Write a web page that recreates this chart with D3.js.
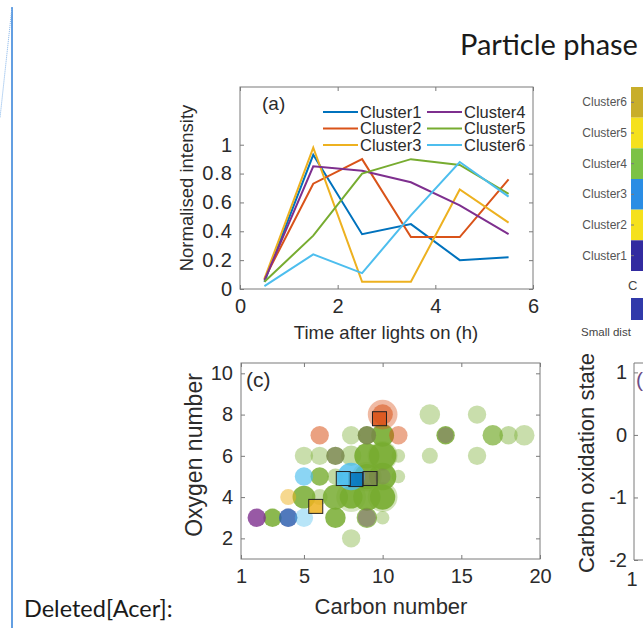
<!DOCTYPE html>
<html>
<head>
<meta charset="utf-8">
<script src="https://cdn.jsdelivr.net/npm/d3@7"></script>
<style>
  body { margin: 0; background: #fff; }
  svg { display: block; }
</style>
</head>
<body>
<svg width="643" height="628"></svg>
<script>
// ---- data ----
var hours = [0.5, 1.5, 2.5, 3.5, 4.5, 5.5];
var clusterNames = ['Cluster1', 'Cluster2', 'Cluster3', 'Cluster4', 'Cluster5', 'Cluster6'];
var cluster1 = [0.05, 0.93, 0.38, 0.45, 0.20, 0.22];
var cluster2 = [0.07, 0.73, 0.90, 0.36, 0.36, 0.76];
var cluster3 = [0.07, 0.98, 0.05, 0.05, 0.69, 0.46];
var cluster4 = [0.06, 0.85, 0.82, 0.74, 0.58, 0.38];
var cluster5 = [0.05, 0.37, 0.80, 0.90, 0.86, 0.66];
var cluster6 = [0.02, 0.24, 0.11, 0.51, 0.88, 0.64];
var timeTicks = [0, 2, 4, 6];
var intensityTicks = [0, 0.2, 0.4, 0.6, 0.8, 1];

// panel (c): [carbon, oxygen, size, frequency]
var pointsC5 = [
  [8, 2, 3.3, 0.4],
  [3, 3, 3.3, 0.85], [7, 3, 4.1, 0.85], [9, 3, 4.1, 0.75], [10, 3, 1.8, 0.4],
  [5, 4, 5.1, 0.85], [6, 4, 2.5, 0.4], [7, 4, 6.2, 0.85], [8, 4, 8.6, 0.3], [8, 4, 5.1, 0.9],
  [9, 4, 7.3, 0.9], [10, 4, 8.6, 0.35], [10, 4, 6.2, 0.9],
  [6, 5, 3.3, 0.8], [7, 5, 2.5, 0.45], [9, 5, 8.6, 0.3], [9, 5, 6.2, 0.9], [10, 5, 7.3, 0.9],
  [11, 5, 1.8, 0.4],
  [5, 6, 3.3, 0.4], [6, 6, 3.3, 0.4], [7, 6, 3.3, 0.8], [8, 6, 4.1, 0.45], [9, 6, 6.2, 0.9],
  [10, 6, 8.6, 0.35], [10, 6, 7.3, 0.9], [11, 6, 1.8, 0.4], [13, 6, 2.5, 0.4], [16, 6, 3.3, 0.4],
  [8, 7, 3.3, 0.4], [9, 7, 3.3, 0.9], [10, 7, 5.1, 0.9], [14, 7, 3.3, 0.85],
  [17, 7, 4.1, 0.7], [18, 7, 3.3, 0.45], [19, 7, 4.1, 0.4],
  [13, 8, 4.1, 0.4], [16, 8, 3.3, 0.4]
];
var pointsC4 = [[2, 3, 3.3, 0.8], [4, 3, 3.3, 0.6], [7, 6, 3.3, 0.25], [9, 7, 3.3, 0.25],
  [9, 3, 3.3, 0.3], [14, 7, 2.5, 0.25], [10, 5, 2.5, 0.15]];
var pointsC1 = [[4, 3, 3.3, 0.55]];
var pointsC2 = [[6, 7, 3.3, 0.55], [11, 7, 3.3, 0.5], [10, 8, 8.6, 0.4], [10, 8, 4.1, 0.55]];
var pointsC3 = [[4, 4, 2.5, 0.5]];
var pointsC6 = [[5, 5, 3.3, 0.65], [5, 3, 3.3, 0.4], [8, 5, 7.3, 0.8]];
var centroidCarbon = [8.3, 9.8, 5.75, 9.2, 7.5];
var centroidOxygen = [4.85, 7.8, 3.55, 4.9, 4.9];
var centroidCluster = [0, 1, 2, 3, 5];
var centroidFreq = [0.85, 0.85, 0.85, 0.25, 0.85];
var carbonTicks = [1, 5, 10, 15, 20];
var oxygenTicks = [2, 4, 6, 8, 10];

// panel (b) visible column, values per cluster (top to bottom: Cluster6..Cluster1)
var panelBLabels = ['Cluster6', 'Cluster5', 'Cluster4', 'Cluster3', 'Cluster2', 'Cluster1'];
var panelBValues = [0.65, 1.0, 0.5, 0.2, 1.0, 0.0];

// panel (d)
var oxStateTicks = [1, 0, -1, -2];

// ---- setup ----
var svg = d3.select('svg');
var axisFont = 'Liberation Sans, Arial, sans-serif';
var docFont = 'Lato, sans-serif';
var textCol = '#2b2b2b';
var frameCol = '#7a7a7a';
var fmt = function(d) { return String(d); };

var clusterColour = d3.scaleOrdinal()
  .domain(d3.range(6))
  .range(['#0072BD', '#D95319', '#EDB120', '#7E2F8E', '#77AC30', '#4DBEEE']);

var parula = d3.scaleLinear()
  .domain([0, 0.2, 0.5, 0.65, 1])
  .range(['#322ba0', '#2a8de4', '#7cc246', '#c8ae2a', '#f5e11c']);

// document decorations
svg.append('line').attr('x1', 12).attr('y1', 7).attr('x2', 12).attr('y2', 628)
  .attr('stroke', '#2f7fd8').attr('stroke-width', 1.5);
svg.append('line').attr('x1', 12).attr('y1', 7).attr('x2', 0).attr('y2', 118)
  .attr('stroke', '#7fb2ea').attr('stroke-width', 1).attr('stroke-dasharray', '1,1');
svg.append('text').attr('x', 24).attr('y', 617)
  .style('font-family', docFont).style('font-size', '23.5px').attr('fill', '#1a1a1a')
  .text('Deleted[Acer]:');
svg.append('text').attr('x', 460).attr('y', 55)
  .style('font-family', docFont).style('font-size', '29px').attr('fill', '#1a1a1a')
  .text('Particle phase');

function frame(g, x, y, w, h) {
  g.append('rect').attr('x', x).attr('y', y).attr('width', w).attr('height', h)
    .attr('fill', 'none').attr('stroke', frameCol).attr('stroke-width', 1);
}

function styleAxis(g, size, spacing) {
  g.select('.domain').remove();
  g.selectAll('.tick line').attr('stroke', frameCol);
  g.selectAll('.tick text').attr('fill', textCol)
    .style('font-family', axisFont).style('font-size', size + 'px')
    .style('letter-spacing', (spacing || 0) + 'px');
}

// ---- panel (a) ----
var ax = d3.scaleLinear().domain([0, 6]).range([240, 533]);
var ay = d3.scaleLinear().domain([0, 1.4]).range([289, 87]);
var gA = svg.append('g');

gA.append('g').attr('transform', 'translate(0,289)')
  .call(d3.axisBottom(ax).tickValues(timeTicks).tickFormat(fmt).tickSizeInner(-4).tickSizeOuter(0).tickPadding(10))
  .call(styleAxis, 20);
gA.append('g').attr('transform', 'translate(0,87)')
  .call(d3.axisTop(ax).tickValues(timeTicks).tickSizeInner(-4).tickSizeOuter(0).tickFormat(''))
  .call(styleAxis, 20);
gA.append('g').attr('transform', 'translate(240,0)')
  .call(d3.axisLeft(ay).tickValues(intensityTicks).tickFormat(fmt).tickSizeInner(-4).tickSizeOuter(0).tickPadding(7))
  .call(styleAxis, 20, 1);
gA.append('g').attr('transform', 'translate(533,0)')
  .call(d3.axisRight(ay).tickValues(intensityTicks).tickSizeInner(-4).tickSizeOuter(0).tickFormat(''))
  .call(styleAxis, 20);
frame(gA, 240, 87, 293, 202);

var series = [cluster1, cluster2, cluster3, cluster4, cluster5, cluster6];
var line = d3.line().x(function(d, i) { return ax(hours[i]); }).y(function(d) { return ay(d); });
gA.selectAll('path.series').data(series).enter()
  .append('path').attr('class', 'series')
  .attr('d', line)
  .attr('fill', 'none')
  .attr('stroke', function(d, i) { return clusterColour(i); })
  .attr('stroke-width', 2);

gA.append('text').attr('x', 262).attr('y', 110).text('(a)')
  .style('font-family', axisFont).style('font-size', '19px').attr('fill', textCol);

var legend = gA.selectAll('g.leg').data(clusterNames).enter().append('g').attr('class', 'leg')
  .attr('transform', function(d, i) {
    return 'translate(' + (i < 3 ? 323 : 427) + ',' + (112 + (i % 3) * 16.5) + ')';
  });
legend.append('line').attr('x1', 0).attr('x2', 35).attr('y1', 0).attr('y2', 0)
  .attr('stroke', function(d, i) { return clusterColour(i); }).attr('stroke-width', 2);
legend.append('text').attr('x', 37).attr('y', 5.5).text(function(d) { return d; })
  .style('font-family', axisFont).style('font-size', '16.5px').attr('fill', textCol);

gA.append('text').attr('transform', 'translate(193,188) rotate(-90)').attr('text-anchor', 'middle')
  .style('font-family', axisFont).style('font-size', '18.5px').attr('fill', textCol)
  .text('Normalised intensity');
gA.append('text').attr('x', 386).attr('y', 339).attr('text-anchor', 'middle')
  .style('font-family', axisFont).style('font-size', '18.5px').attr('fill', textCol)
  .text('Time after lights on (h)');

// ---- panel (c) ----
var cx = d3.scaleLinear().domain([1, 20]).range([241, 540]);
var cy = d3.scaleLinear().domain([1, 10.5]).range([559, 363]);
var rScale = d3.scaleSqrt().domain([0, 10]).range([0, 16]);
var aScale = d3.scaleLinear().domain([0, 1]).range([0, 1]);
var gC = svg.append('g');

gC.append('g').attr('transform', 'translate(0,559)')
  .call(d3.axisBottom(cx).tickValues(carbonTicks).tickFormat(fmt).tickSizeInner(-4).tickSizeOuter(0).tickPadding(10))
  .call(styleAxis, 20);
gC.append('g').attr('transform', 'translate(0,363)')
  .call(d3.axisTop(cx).tickValues(carbonTicks).tickSizeInner(-4).tickSizeOuter(0).tickFormat(''))
  .call(styleAxis, 20);
gC.append('g').attr('transform', 'translate(241,0)')
  .call(d3.axisLeft(cy).tickValues(oxygenTicks).tickFormat(fmt).tickSizeInner(-4).tickSizeOuter(0).tickPadding(8))
  .call(styleAxis, 20);
gC.append('g').attr('transform', 'translate(540,0)')
  .call(d3.axisRight(cy).tickValues(oxygenTicks).tickSizeInner(-4).tickSizeOuter(0).tickFormat(''))
  .call(styleAxis, 20);

var layers = [[4, pointsC5], [3, pointsC4], [0, pointsC1], [1, pointsC2], [2, pointsC3], [5, pointsC6]];
layers.forEach(function(layer) {
  gC.append('g').selectAll('circle').data(layer[1]).enter()
    .append('circle')
    .attr('cx', function(d) { return cx(d[0]); })
    .attr('cy', function(d) { return cy(d[1]); })
    .attr('r', function(d) { return rScale(d[2]); })
    .attr('fill', clusterColour(layer[0]))
    .attr('fill-opacity', function(d) { return aScale(d[3]); });
});

var sq = 14;
gC.append('g').selectAll('rect').data(centroidCarbon).enter()
  .append('rect')
  .attr('x', function(d) { return cx(d) - sq / 2; })
  .attr('y', function(d, i) { return cy(centroidOxygen[i]) - sq / 2; })
  .attr('width', sq).attr('height', sq)
  .attr('fill', function(d, i) { return clusterColour(centroidCluster[i]); })
  .attr('fill-opacity', function(d, i) { return centroidFreq[i]; })
  .attr('stroke', '#222').attr('stroke-width', 1);

frame(gC, 241, 363, 299, 196);
gC.append('text').attr('x', 246).attr('y', 387).text('(c)')
  .style('font-family', axisFont).style('font-size', '21px').attr('fill', textCol);
gC.append('text').attr('transform', 'translate(202,455) rotate(-90)').attr('text-anchor', 'middle')
  .style('font-family', axisFont).style('font-size', '23px').attr('fill', textCol)
  .text('Oxygen number');
gC.append('text').attr('x', 391).attr('y', 614).attr('text-anchor', 'middle')
  .style('font-family', axisFont).style('font-size', '22px').attr('fill', textCol)
  .text('Carbon number');

// ---- panel (b), cut off at right ----
var by = d3.scaleBand().domain(panelBLabels).range([87, 271]);
var gB = svg.append('g');
gB.selectAll('rect').data(panelBLabels).enter()
  .append('rect')
  .attr('x', 631).attr('y', function(d) { return by(d); })
  .attr('width', 20).attr('height', by.bandwidth())
  .attr('fill', function(d, i) { return parula(panelBValues[i]); });
gB.append('g').attr('transform', 'translate(631,0)')
  .call(d3.axisLeft(by).tickSizeInner(-3).tickSizeOuter(0).tickPadding(4))
  .call(styleAxis, 12)
  .selectAll('.tick text').attr('fill', '#555');
gB.append('text').attr('x', 628).attr('y', 290).text('C')
  .style('font-family', axisFont).style('font-size', '13px').attr('fill', '#444');
gB.append('rect').attr('x', 631).attr('y', 298).attr('width', 20).attr('height', 22)
  .attr('fill', parula(0.03));
gB.append('text').attr('x', 581).attr('y', 336).text('Small dist')
  .style('font-family', axisFont).style('font-size', '11.5px').attr('fill', '#444');

// ---- panel (d), cut off at right ----
var dy = d3.scaleLinear().domain([-2, 1.15]).range([560, 363]);
var gD = svg.append('g');
gD.append('g').attr('transform', 'translate(634,0)')
  .call(d3.axisLeft(dy).tickValues(oxStateTicks).tickFormat(fmt).tickSizeInner(-4).tickSizeOuter(0).tickPadding(7))
  .call(styleAxis, 20);
gD.append('line').attr('x1', 634).attr('x2', 650).attr('y1', 363).attr('y2', 363).attr('stroke', frameCol);
gD.append('line').attr('x1', 634).attr('x2', 634).attr('y1', 363).attr('y2', 560).attr('stroke', frameCol);
gD.append('line').attr('x1', 634).attr('x2', 650).attr('y1', 560).attr('y2', 560).attr('stroke', frameCol);
gD.append('text').attr('x', 636).attr('y', 387).text('(')
  .style('font-family', axisFont).style('font-size', '21px').attr('fill', '#6d4f86');
gD.append('text').attr('x', 632).attr('y', 586).attr('text-anchor', 'middle').text('1')
  .style('font-family', axisFont).style('font-size', '20px').attr('fill', textCol);
gD.append('text').attr('transform', 'translate(594,463) rotate(-90)').attr('text-anchor', 'middle')
  .style('font-family', axisFont).style('font-size', '22px').attr('fill', textCol)
  .text('Carbon oxidation state');
</script>
</body>
</html>
